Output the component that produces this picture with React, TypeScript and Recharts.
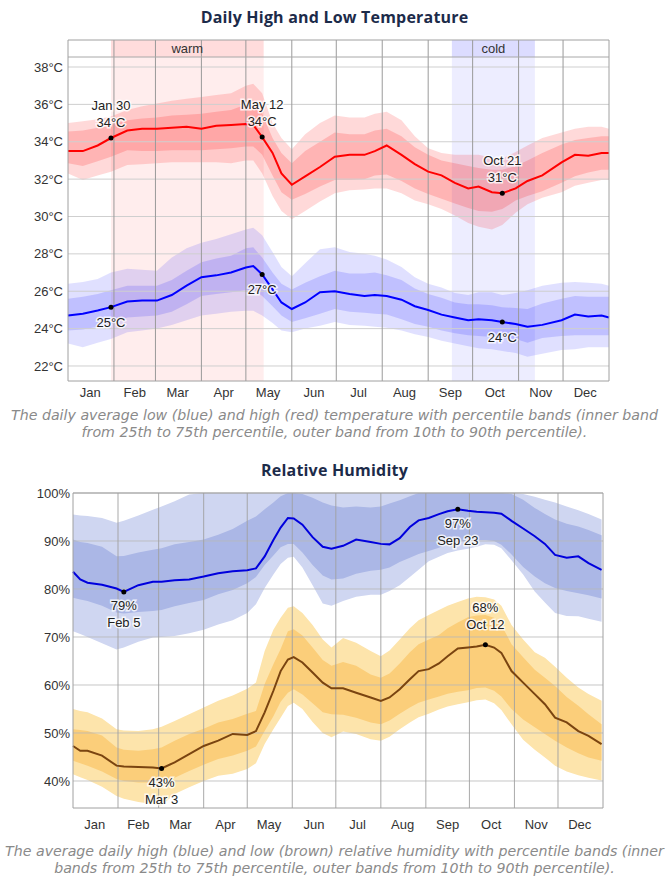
import React from 'react';
import {
  ComposedChart,
  Area,
  Line,
  XAxis,
  YAxis,
  ReferenceLine,
  ReferenceArea,
  ReferenceDot,
} from 'recharts';

// ---------- shared axis data ----------
const MONTHS = ['Jan', 'Feb', 'Mar', 'Apr', 'May', 'Jun', 'Jul', 'Aug', 'Sep', 'Oct', 'Nov', 'Dec'];
const MONTH_MID = [15, 45, 74, 105, 135, 166, 196, 227, 258, 288, 319, 349];
const MONTH_STARTS = [31, 59, 90, 120, 151, 181, 212, 243, 273, 304, 334];

// ---------- temperature (day of year, °C) ----------
const T_DAYS = [0, 10, 20, 29, 40, 50, 60, 70, 80, 90, 100, 110, 120, 125, 131, 138, 144, 151, 160, 170, 180, 190, 200, 207, 215, 225, 234, 243, 252, 261, 270, 277, 286, 293, 302, 310, 320, 333, 342, 351, 360, 365];
const HIGH_MEAN = [33.5, 33.5, 33.8, 34.2, 34.6, 34.7, 34.7, 34.75, 34.8, 34.7, 34.85, 34.9, 34.95, 34.9, 34.25, 33.4, 32.3, 31.7, 32.15, 32.65, 33.2, 33.3, 33.3, 33.5, 33.8, 33.3, 32.8, 32.4, 32.2, 31.8, 31.5, 31.6, 31.3, 31.25, 31.5, 31.9, 32.2, 32.9, 33.3, 33.25, 33.4, 33.4];
const HIGH_P90 = [35.0, 35.1, 35.2, 35.35, 35.7, 35.9, 36.05, 36.2, 36.3, 36.4, 36.5, 36.6, 37.0, 37.1, 36.6, 35.0, 34.2, 33.6, 34.4, 35.0, 35.4, 35.3, 35.3, 35.5, 35.6, 35.15, 34.3, 33.65, 33.4, 33.3, 33.3, 33.3, 33.15, 33.1, 33.45, 33.8, 34.2, 34.5, 34.7, 34.8, 34.8, 34.7];
const HIGH_P75 = [34.55, 34.6, 34.75, 34.9, 35.15, 35.25, 35.3, 35.4, 35.45, 35.5, 35.6, 35.7, 36.0, 36.05, 35.5, 34.2, 33.4, 32.85, 33.5, 34.0, 34.5, 34.4, 34.4, 34.6, 34.7, 34.3, 33.7, 33.3, 33.0, 32.85, 32.7, 32.6, 32.5, 32.5, 32.7, 33.0, 33.4, 33.85, 34.1, 34.2, 34.3, 34.3];
const HIGH_P25 = [32.85, 32.7, 32.95, 33.2, 33.55, 33.5, 33.5, 33.55, 33.55, 33.55, 33.6, 33.65, 33.75, 33.75, 33.3, 32.2, 31.3, 30.9, 31.2, 31.6, 31.95, 31.95, 32.0, 32.2, 32.25, 31.9, 31.5, 31.2, 30.95, 30.7, 30.45, 30.3, 30.25, 30.4, 30.85, 31.1, 31.35, 31.8, 32.15, 32.35, 32.5, 32.5];
const HIGH_P10 = [32.3, 31.95, 32.2, 32.4, 32.75, 32.8, 32.85, 32.9, 32.9, 32.9, 32.9, 32.85, 33.0, 33.0, 32.3, 31.1, 30.3, 29.85, 30.3, 30.8, 31.25, 31.4, 31.45, 31.5, 31.5, 31.25, 30.85, 30.65, 30.4, 30.05, 29.65, 29.45, 29.3, 29.55, 30.2, 30.65, 31.0, 31.3, 31.65, 31.8, 31.95, 31.95];
const LOW_MEAN = [24.7, 24.8, 24.97, 25.15, 25.45, 25.5, 25.5, 25.8, 26.3, 26.75, 26.85, 27.0, 27.27, 27.35, 26.9, 26.1, 25.4, 25.05, 25.4, 25.95, 26.0, 25.85, 25.75, 25.8, 25.75, 25.55, 25.2, 25.0, 24.75, 24.6, 24.45, 24.5, 24.45, 24.35, 24.25, 24.1, 24.2, 24.45, 24.75, 24.65, 24.7, 24.6];
const LOW_P90 = [26.4, 26.5, 26.65, 27.0, 27.2, 27.15, 27.1, 27.8, 28.3, 28.6, 28.8, 29.05, 29.3, 29.4, 29.0, 28.1, 27.3, 26.8, 27.5, 28.25, 28.35, 28.1, 28.0, 27.9, 27.7, 27.3, 26.75, 26.4, 26.2, 25.9, 25.8, 25.95, 25.95, 25.8, 25.9, 26.05, 26.3, 26.45, 26.5, 26.45, 26.4, 26.3];
const LOW_P75 = [25.6, 25.7, 25.85, 26.05, 26.3, 26.3, 26.3, 26.6, 27.1, 27.55, 27.75, 27.9, 28.3, 28.35, 27.8, 27.0, 26.4, 26.1, 26.45, 26.8, 27.1, 26.95, 26.95, 27.0, 26.85, 26.6, 26.15, 25.85, 25.65, 25.4, 25.3, 25.3, 25.25, 25.15, 25.1, 25.05, 25.35, 25.6, 25.75, 25.7, 25.7, 25.7];
const LOW_P25 = [23.9, 23.95, 24.1, 24.25, 24.6, 24.65, 24.7, 24.9, 25.3, 25.75, 25.85, 25.95, 26.05, 26.1, 25.75, 25.2, 24.7, 24.35, 24.55, 24.8, 25.05, 24.9, 24.85, 24.8, 24.75, 24.5, 24.25, 24.1, 23.9, 23.75, 23.65, 23.6, 23.55, 23.5, 23.45, 23.25, 23.5, 23.6, 23.65, 23.65, 23.65, 23.65];
const LOW_P10 = [23.2, 23.0, 23.25, 23.45, 23.8, 23.9, 24.0, 24.2, 24.45, 24.7, 24.8, 24.9, 24.95, 24.95, 24.7, 24.3, 23.9, 23.8, 24.0, 24.15, 24.35, 24.2, 24.15, 24.1, 24.05, 23.9, 23.7, 23.55, 23.35, 23.2, 23.05, 22.95, 22.9, 22.8, 22.7, 22.5, 22.65, 22.85, 22.9, 23.0, 23.0, 23.0];
const T_TICKS = [22, 24, 26, 28, 30, 32, 34, 36, 38];
const T_DOMAIN: [number, number] = [21.197, 39.445];
const T_STRIP = 38.535;
const WARM: [number, number] = [29, 132];
const COLD: [number, number] = [259, 315];
const T_ANNOT_HIGH = [
  { day: 29, value: 34.2, date: 'Jan 30', label: '34°C' },
  { day: 131, value: 34.25, date: 'May 12', label: '34°C' },
  { day: 293, value: 31.25, date: 'Oct 21', label: '31°C' },
];
const T_ANNOT_LOW = [
  { day: 29, value: 25.15, label: '25°C' },
  { day: 131, value: 26.9, label: '27°C' },
  { day: 293, value: 24.35, label: '24°C' },
];

// ---------- humidity (day of year, %) ----------
const H_DAYS = [0, 5, 10, 20, 30, 35, 45, 55, 61, 70, 80, 90, 100, 110, 120, 126, 132, 138, 143, 148, 152, 158, 165, 172, 178, 186, 195, 205, 212, 218, 225, 232, 238, 245, 252, 258, 265, 272, 278, 284, 290, 295, 302, 310, 318, 325, 332, 340, 348, 355, 364];
const HUM_HIGH_MEAN = [83.6, 82.0, 81.3, 80.9, 80.1, 79.4, 80.8, 81.5, 81.5, 81.8, 82.0, 82.6, 83.3, 83.7, 83.9, 84.3, 86.8, 90.2, 92.8, 94.8, 94.7, 93.4, 90.8, 88.8, 88.4, 89.0, 90.3, 89.8, 89.4, 89.3, 90.6, 92.9, 94.3, 94.8, 95.6, 96.2, 96.6, 96.3, 96.1, 96.0, 95.9, 95.7, 94.2, 92.6, 91.0, 89.4, 87.1, 86.5, 86.8, 85.4, 84.0];
const HUM_HIGH_P90 = [95.5, 95.3, 95.2, 94.8, 93.8, 94.2, 95.3, 96.5, 97.2, 98.3, 99.7, 100, 100, 100, 100, 100, 100, 100, 100, 100, 100, 100, 100, 100, 100, 100, 100, 100, 100, 100, 100, 100, 100, 100, 100, 100, 100, 100, 100, 100, 100, 100, 100, 99.8, 99.2, 98.6, 98.0, 97.2, 96.4, 95.6, 94.5];
const HUM_HIGH_P75 = [90.3, 89.8, 89.6, 88.8, 86.8, 86.9, 87.6, 88.2, 88.5, 89.3, 89.8, 90.3, 91.3, 92.5, 94.2, 95.1, 96.6, 98.0, 99.3, 100, 100, 99.8, 99.0, 98.0, 97.4, 97.0, 97.2, 97.0, 97.2, 97.8, 98.5, 99.3, 100, 100, 100, 100, 100, 100, 100, 100, 100, 100, 99.8, 98.6, 96.9, 95.6, 94.5, 93.6, 93.0, 92.3, 91.2];
const HUM_HIGH_P25 = [78.2, 77.8, 77.5, 76.5, 75.1, 74.9, 75.2, 75.4, 75.6, 76.4, 77.1, 77.7, 78.9, 79.8, 81.2, 82.5, 85.0, 87.0, 88.7, 89.4, 89.4, 87.6, 85.0, 82.8, 82.0, 82.2, 83.2, 83.8, 84.0, 84.5, 85.6, 86.5, 87.3, 87.9, 88.6, 89.4, 89.8, 90.2, 90.2, 90.2, 90.0, 89.2, 87.2, 84.6, 82.6, 81.2, 80.2, 79.6, 79.1, 78.7, 78.0];
const HUM_HIGH_P10 = [71.2, 70.6, 70.0, 68.7, 67.4, 67.8, 69.0, 69.9, 70.0, 70.2, 70.8, 71.5, 72.6, 73.5, 75.0, 76.8, 80.2, 83.0, 85.2, 86.5, 86.7, 84.5, 80.8, 77.0, 76.5, 77.5, 78.4, 78.8, 78.8, 79.6, 80.8, 82.5, 84.0, 85.8, 86.7, 87.5, 88.0, 88.4, 88.8, 89.3, 89.2, 88.5, 86.0, 83.0, 79.5, 77.2, 75.0, 74.4, 74.3, 73.8, 73.2];
const HUM_LOW_MEAN = [47.3, 46.3, 46.3, 45.3, 43.2, 43.0, 42.9, 42.8, 42.6, 43.9, 45.6, 47.3, 48.4, 49.8, 49.6, 50.4, 54.3, 58.8, 62.9, 65.3, 65.8, 64.7, 62.6, 60.5, 59.3, 59.3, 58.4, 57.4, 56.7, 57.4, 59.1, 61.2, 62.9, 63.3, 64.5, 66.0, 67.6, 67.8, 68.0, 68.4, 67.8, 66.7, 62.9, 60.5, 58.1, 56.0, 53.2, 52.2, 50.4, 49.4, 47.7];
const HUM_LOW_P90 = [55.0, 54.6, 54.3, 53.0, 50.8, 50.5, 50.4, 50.8, 51.3, 52.5, 53.9, 55.3, 56.7, 57.8, 59.2, 60.5, 67.1, 71.5, 74.0, 76.1, 76.4, 75.0, 72.5, 69.5, 67.8, 69.8, 68.8, 67.1, 66.0, 67.2, 69.5, 71.8, 73.5, 74.6, 75.6, 76.5, 77.3, 78.0, 78.4, 78.3, 77.8, 76.5, 72.5, 69.5, 66.8, 65.7, 63.8, 61.5, 59.5, 58.1, 56.7];
const HUM_LOW_P75 = [50.8, 50.6, 50.4, 49.5, 47.0, 46.5, 46.3, 46.6, 47.0, 48.4, 49.8, 50.9, 52.2, 52.9, 54.0, 54.6, 60.2, 64.3, 67.5, 71.2, 71.6, 70.3, 67.8, 65.2, 64.0, 64.8, 64.0, 62.2, 61.5, 62.4, 64.5, 66.8, 68.5, 69.5, 70.4, 71.8, 73.0, 74.1, 74.5, 74.6, 74.0, 72.5, 68.5, 65.8, 63.2, 61.5, 59.8, 57.5, 55.7, 53.9, 51.8];
const HUM_LOW_P25 = [44.2, 43.7, 43.2, 42.0, 40.4, 40.0, 39.7, 39.7, 40.0, 40.7, 42.1, 43.4, 44.6, 45.3, 46.3, 47.2, 50.4, 53.5, 56.5, 58.4, 59.1, 58.0, 56.2, 54.3, 53.9, 53.8, 53.2, 52.2, 51.8, 52.6, 54.0, 55.3, 56.3, 57.0, 57.6, 58.2, 58.6, 58.9, 59.4, 59.5, 58.8, 57.6, 55.0, 52.8, 51.2, 49.8, 48.4, 47.0, 45.8, 44.9, 44.2];
const HUM_LOW_P10 = [41.4, 40.8, 40.2, 38.8, 36.9, 36.3, 35.6, 35.2, 34.9, 37.3, 38.7, 40.0, 41.1, 41.5, 42.5, 43.7, 47.7, 50.8, 53.2, 55.6, 56.3, 55.0, 52.3, 50.0, 49.1, 50.3, 49.8, 48.7, 48.4, 49.2, 50.8, 52.2, 53.3, 54.0, 54.9, 55.5, 56.0, 56.4, 56.8, 57.0, 56.2, 54.8, 51.8, 48.6, 46.5, 44.9, 43.2, 42.0, 41.2, 40.7, 40.1];
const H_TICKS = [40, 50, 60, 70, 80, 90, 100];
const H_DOMAIN: [number, number] = [34.375, 100];
const H_ANNOT = [
  { day: 35, value: 79.4, lines: ['79%', 'Feb 5'], above: false },
  { day: 61, value: 42.6, lines: ['43%', 'Mar 3'], above: false },
  { day: 265, value: 96.6, lines: ['97%', 'Sep 23'], above: false },
  { day: 284, value: 68.4, lines: ['68%', 'Oct 12'], above: true },
];

const tempData = T_DAYS.map((d, i) => ({
  day: d,
  hi: HIGH_MEAN[i],
  hiOuter: [HIGH_P10[i], HIGH_P90[i]],
  hiInner: [HIGH_P25[i], HIGH_P75[i]],
  lo: LOW_MEAN[i],
  loOuter: [LOW_P10[i], LOW_P90[i]],
  loInner: [LOW_P25[i], LOW_P75[i]],
}));

const humData = H_DAYS.map((d, i) => ({
  day: d,
  hi: HUM_HIGH_MEAN[i],
  hiOuter: [HUM_HIGH_P10[i], HUM_HIGH_P90[i]],
  hiInner: [HUM_HIGH_P25[i], HUM_HIGH_P75[i]],
  lo: HUM_LOW_MEAN[i],
  loOuter: [HUM_LOW_P10[i], HUM_LOW_P90[i]],
  loInner: [HUM_LOW_P25[i], HUM_LOW_P75[i]],
}));

const AXIS_FONT = '"Liberation Sans", Arial, sans-serif';
const tickStyle = { fontSize: 13, fill: '#333', fontFamily: AXIS_FONT };
const monthFmt = (v: number) => MONTHS[MONTH_MID.indexOf(v)] ?? '';

const haloText = {
  fontSize: 13,
  fontFamily: AXIS_FONT,
  fill: '#222',
  stroke: '#fff',
  strokeWidth: 3,
  strokeOpacity: 0.8,
  paintOrder: 'stroke' as const,
  textAnchor: 'middle' as const,
  dominantBaseline: 'central' as const,
};

const makeAnnot = (lines: string[], offsets: number[]) => (props: any) => {
  const { cx, cy } = props;
  if (cx == null || cy == null) return <g />;
  return (
    <g>
      <circle cx={cx} cy={cy} r={2.5} fill="#000" />
      {lines.map((t, i) => (
        <text key={i} x={cx} y={cy + offsets[i]} {...haloText}>
          {t}
        </text>
      ))}
    </g>
  );
};

const titleStyle: React.CSSProperties = {
  position: 'absolute',
  left: 0,
  width: 669,
  textAlign: 'center',
  fontFamily: '"Open Sans", "DejaVu Sans", sans-serif',
  fontWeight: 700,
  fontSize: 16,
  letterSpacing: 0.2,
  color: '#1c2b4a',
  lineHeight: '20px',
};

const captionStyle: React.CSSProperties = {
  position: 'absolute',
  left: 0,
  width: 669,
  textAlign: 'center',
  fontFamily: '"DejaVu Sans", Verdana, sans-serif',
  fontStyle: 'italic',
  fontSize: 14.2,
  color: '#8a8a8a',
  lineHeight: '17px',
  whiteSpace: 'nowrap',
};

function TempChart() {
  return (
    <ComposedChart width={669} height={410} data={tempData} margin={{ top: 40, right: 60, bottom: 4, left: 0 }}>
      <XAxis
        dataKey="day"
        type="number"
        domain={[0, 365]}
        ticks={MONTH_MID}
        tickFormatter={monthFmt}
        interval={0}
        axisLine={false}
        tickLine={false}
        tickSize={0}
        tickMargin={7}
        height={25}
        tick={tickStyle}
      />
      <YAxis
        type="number"
        domain={T_DOMAIN}
        allowDataOverflow
        ticks={T_TICKS}
        interval={0}
        tickFormatter={(v: number) => `${v}°C`}
        axisLine={false}
        tickLine={false}
        tickSize={3}
        tickMargin={2}
        width={68}
        tick={tickStyle}
      />
      {/* warm / cold seasons */}
      <ReferenceArea x1={WARM[0]} x2={WARM[1]} y1={T_DOMAIN[0]} y2={T_STRIP} fill="#ffeded" fillOpacity={1} stroke="none" zIndex={-200} />
      <ReferenceArea x1={COLD[0]} x2={COLD[1]} y1={T_DOMAIN[0]} y2={T_STRIP} fill="#ededff" fillOpacity={1} stroke="none" zIndex={-200} />
      <ReferenceArea
        x1={WARM[0]}
        x2={WARM[1]}
        y1={T_STRIP}
        y2={T_DOMAIN[1]}
        fill="#ffdcdc"
        fillOpacity={1}
        stroke="none"
        zIndex={-200}
        label={{ value: 'warm', position: 'center', fill: '#333', fontSize: 13, fontFamily: AXIS_FONT }}
      />
      <ReferenceArea
        x1={COLD[0]}
        x2={COLD[1]}
        y1={T_STRIP}
        y2={T_DOMAIN[1]}
        fill="#dcdcff"
        fillOpacity={1}
        stroke="none"
        zIndex={-200}
        label={{ value: 'cold', position: 'center', fill: '#333', fontSize: 13, fontFamily: AXIS_FONT }}
      />
      <Area dataKey="hiOuter" type="linear" stroke="none" fill="#ff0000" fillOpacity={0.15} isAnimationActive={false} />
      <Area dataKey="hiInner" type="linear" stroke="none" fill="#ff0000" fillOpacity={0.17} isAnimationActive={false} />
      <Area dataKey="loOuter" type="linear" stroke="none" fill="#0000ff" fillOpacity={0.12} isAnimationActive={false} />
      <Area dataKey="loInner" type="linear" stroke="none" fill="#0000ff" fillOpacity={0.14} isAnimationActive={false} />
      {T_TICKS.map((t) => (
        <ReferenceLine key={'h' + t} y={t} stroke="#cfcfcf" strokeWidth={1} zIndex={150} />
      ))}
      {MONTH_STARTS.map((d) => (
        <ReferenceLine key={'v' + d} x={d} stroke="#9a9a9a" strokeWidth={1} zIndex={150} />
      ))}
      <ReferenceLine y={T_STRIP} stroke="#a8a8a8" strokeWidth={1} zIndex={150} />
      <Line dataKey="hi" type="linear" stroke="#ff0000" strokeWidth={2} dot={false} activeDot={false} isAnimationActive={false} />
      <Line dataKey="lo" type="linear" stroke="#0000ff" strokeWidth={2} dot={false} activeDot={false} isAnimationActive={false} />
      <ReferenceArea x1={0} x2={365} y1={T_DOMAIN[0]} y2={T_DOMAIN[1]} fill="none" stroke="#a0a0a0" strokeWidth={1} zIndex={450} />
      {T_ANNOT_HIGH.map((a) => (
        <ReferenceDot key={'ah' + a.day} x={a.day} y={a.value} r={2.5} zIndex={1300} shape={makeAnnot([a.date, a.label], [-33, -16])} />
      ))}
      {T_ANNOT_LOW.map((a) => (
        <ReferenceDot key={'al' + a.day} x={a.day} y={a.value} r={2.5} zIndex={1300} shape={makeAnnot([a.label], [15])} />
      ))}
    </ComposedChart>
  );
}

function HumChart() {
  return (
    <ComposedChart width={669} height={390} data={humData} margin={{ top: 43, right: 66, bottom: 4, left: 0 }}>
      <XAxis
        dataKey="day"
        type="number"
        domain={[0, 365]}
        ticks={MONTH_MID}
        tickFormatter={monthFmt}
        interval={0}
        axisLine={false}
        tickLine={false}
        tickSize={0}
        tickMargin={12}
        height={28}
        tick={tickStyle}
      />
      <YAxis
        type="number"
        domain={H_DOMAIN}
        allowDataOverflow
        ticks={H_TICKS}
        interval={0}
        tickFormatter={(v: number) => `${v}%`}
        axisLine={false}
        tickLine={false}
        tickSize={1}
        tickMargin={2}
        width={73}
        tick={tickStyle}
      />
      <Area dataKey="hiOuter" type="linear" stroke="none" fill="#cfd6f1" fillOpacity={1} isAnimationActive={false} />
      <Area dataKey="hiInner" type="linear" stroke="none" fill="#abb7e6" fillOpacity={1} isAnimationActive={false} />
      <Area dataKey="loOuter" type="linear" stroke="none" fill="#fde4ab" fillOpacity={1} isAnimationActive={false} />
      <Area dataKey="loInner" type="linear" stroke="none" fill="#fbce7a" fillOpacity={1} isAnimationActive={false} />
      {H_TICKS.map((t) => (
        <ReferenceLine key={'h' + t} y={t} stroke="#b8b8b8" strokeOpacity={0.8} strokeWidth={1} zIndex={150} />
      ))}
      {MONTH_STARTS.map((d) => (
        <ReferenceLine key={'v' + d} x={d} stroke="#a0a0a0" strokeOpacity={0.9} strokeWidth={1} zIndex={150} />
      ))}
      <Line dataKey="hi" type="linear" stroke="#0000dd" strokeWidth={2} dot={false} activeDot={false} isAnimationActive={false} />
      <Line dataKey="lo" type="linear" stroke="#7a4410" strokeWidth={2} dot={false} activeDot={false} isAnimationActive={false} />
      <ReferenceArea x1={0} x2={365} y1={H_DOMAIN[0]} y2={H_DOMAIN[1]} fill="none" stroke="#a0a0a0" strokeWidth={1} zIndex={450} />
      {H_ANNOT.map((a) => (
        <ReferenceDot
          key={'a' + a.day}
          x={a.day}
          y={a.value}
          r={2.5}
          zIndex={1300}
          shape={makeAnnot(a.lines, a.above ? [-37, -20] : [14, 31])}
        />
      ))}
    </ComposedChart>
  );
}

export default function App() {
  return (
    <div style={{ position: 'absolute', left: 0, top: 0, width: 669, height: 877, background: '#fff', overflow: 'hidden' }}>
      <div style={{ ...titleStyle, top: 7 }}>Daily High and Low Temperature</div>
      <div style={{ position: 'absolute', left: 0, top: 0 }}>
        <TempChart />
      </div>
      <div style={{ ...captionStyle, top: 407 }}>
        The daily average low (blue) and high (red) temperature with percentile bands (inner band
        <br />
        from 25th to 75th percentile, outer band from 10th to 90th percentile).
      </div>
      <div style={{ ...titleStyle, top: 460 }}>Relative Humidity</div>
      <div style={{ position: 'absolute', left: 0, top: 450 }}>
        <HumChart />
      </div>
      <div style={{ ...captionStyle, top: 843 }}>
        The average daily high (blue) and low (brown) relative humidity with percentile bands (inner
        <br />
        bands from 25th to 75th percentile, outer bands from 10th to 90th percentile).
      </div>
    </div>
  );
}
